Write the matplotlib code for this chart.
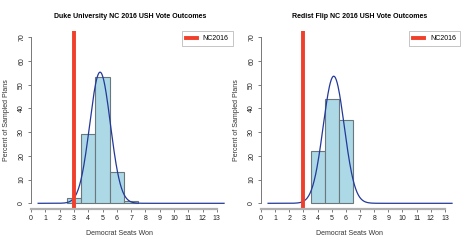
import numpy as np
import matplotlib
matplotlib.use("Agg")
import matplotlib.pyplot as plt

plt.rcParams["font.family"] = ["Liberation Sans", "DejaVu Sans"]

# histogram bins (centres) and percent of sampled plans
duke_seats = [3, 4, 5, 6, 7]
duke_pct = [2.2, 29.1, 53.2, 13.1, 0.85]
flip_seats = [4, 5, 6]
flip_pct = [21.9, 44.0, 35.0]

# fitted normal curves (mean, sd), scaled to percent
duke_mean, duke_sd = 4.83, 0.721
flip_mean, flip_sd = 5.14, 0.744

nc2016 = 3
titles = ["Duke University NC 2016 USH Vote Outcomes",
          "Redist Flip NC 2016 USH Vote Outcomes"]

W, H = 467, 243
fig = plt.figure(figsize=(W / 100, H / 100), dpi=100)


def panel(x0, xscale, seats, pct, mu, sd, title, leg_right):
    # x0 = pixel of x=0, xscale = pixels per seat
    left_px, right_px = x0 - 8, x0 + 202
    top_px, bot_px = 31, 209.3
    ax = fig.add_axes([left_px / W, 1 - bot_px / H,
                       (right_px - left_px) / W, (bot_px - top_px) / H])
    ax.set_xlim((left_px - x0) / xscale, (right_px - x0) / xscale)
    ax.set_ylim((203.3 - bot_px) / 2.37, (203.3 - top_px) / 2.37)

    ax.bar(seats, pct, width=1, color="#add8e6", edgecolor="#6a787d", lw=0.8)
    xs = np.linspace(0.5, 13.5, 400)
    ys = 100 * np.exp(-0.5 * ((xs - mu) / sd) ** 2) / (sd * np.sqrt(2 * np.pi))
    ax.plot(xs, ys, color="#23399a", lw=0.9)
    ax.axvline(nc2016, ymin=0.01, ymax=1, color="#f0402c", lw=2.8,
               label="NC2016")

    for s in ["top", "right"]:
        ax.spines[s].set_visible(False)
    ax.spines["left"].set_position(("data", 0))
    ax.spines["left"].set_bounds(0, 70)
    ax.spines["left"].set_color("#777777")
    ax.spines["left"].set_linewidth(0.7)
    ax.spines["bottom"].set_bounds(0, 13)
    ax.spines["bottom"].set_color("#b0b0b0")
    ax.spines["bottom"].set_linewidth(1.6)

    ax.set_yticks(range(0, 71, 10))
    ax.set_yticklabels([str(v) for v in range(0, 71, 10)], rotation=90,
                       va="center")
    ax.set_xticks(range(0, 14))
    ax.tick_params(axis="both", labelsize=5, length=2.2, width=0.6,
                   color="#666666", labelcolor="#222222", pad=2)

    fig.text((x0 + 99) / W, 1 - 16 / H, title, ha="center", va="center",
             fontsize=5.0, fontweight="bold")
    fig.text((x0 + 89) / W, 1 - 233 / H, "Democrat Seats Won", ha="center",
             va="center", fontsize=5, color="#333333")
    fig.text((x0 - 24) / W, 1 - 120 / H, "Percent of Sampled Plans",
             ha="center", va="center", rotation=90, fontsize=5,
             color="#333333")

    leg = ax.legend(loc="upper right", bbox_to_anchor=(leg_right / W, 1 - 31 / H),
                    bbox_transform=fig.transFigure, fontsize=5, fancybox=False,
                    handlelength=1.6, borderpad=0.6, borderaxespad=0,
                    framealpha=1)
    leg.get_frame().set_edgecolor("#bbbbbb")
    leg.get_frame().set_linewidth(0.6)
    return ax


panel(31, 14.3, duke_seats, duke_pct, duke_mean, duke_sd, titles[0], 232.7)
panel(261, 14.15, flip_seats, flip_pct, flip_mean, flip_sd, titles[1], 460)

fig.savefig("out.png", dpi=100)
